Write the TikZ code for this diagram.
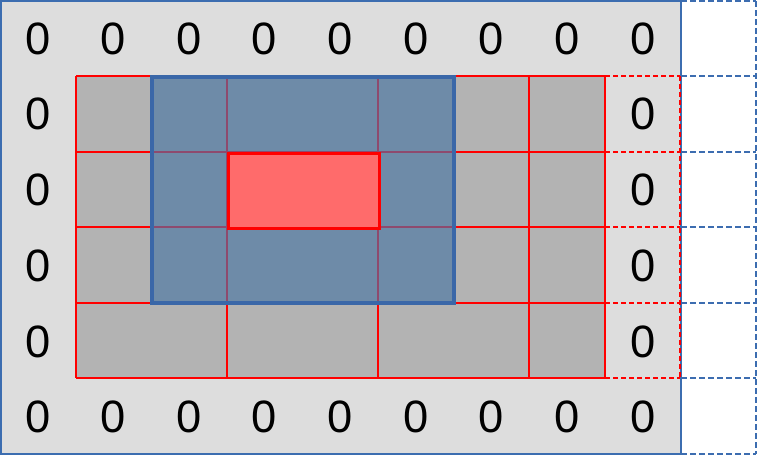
\documentclass[tikz,border=0pt]{standalone}
\usepackage{fontspec}
\setmainfont{Liberation Sans}
\definecolor{outerg}{HTML}{DDDDDD}
\definecolor{innerg}{HTML}{B3B3B3}
\definecolor{bluefill}{HTML}{6E8BA8}
\definecolor{blueedge}{HTML}{3A67A8}
\definecolor{frameblue}{HTML}{3C6DB0}
\definecolor{redfill}{HTML}{FF6B6B}
\definecolor{gridred}{HTML}{FF0000}
\definecolor{inblueline}{HTML}{8E4A6E}
\begin{document}
\begin{tikzpicture}[x=0.75pt,y=-0.75pt,
  zero/.style={font=\fontsize{34}{34}\selectfont, inner sep=0pt},
  redgrid/.style={draw=gridred, line width=1.4pt},
  reddash/.style={draw=gridred, line width=1.4pt, dash pattern=on 3.75pt off 2.25pt},
  bluedash/.style={draw=frameblue, line width=1.4pt, dash pattern=on 4.5pt off 2.25pt},
  inblue/.style={draw=inblueline, line width=1.4pt}]
\useasboundingbox (0,0) rectangle (757,455);
% outer grey frame
\fill[outerg] (0,0) rectangle (681,455);
% blue dashed column
\foreach \r in {1,76,152,227,303,378,454}{
  \draw[bluedash] (681,\r) -- (756,\r);
}
\draw[bluedash] (756,1) -- (756,454);
\draw[frameblue, line width=1.2pt] (0.8,0.8) rectangle (681.2,454.2);
% red grid
\fill[innerg] (76,76) rectangle (605,378);
\foreach \r in {76,152,227,303,378}{
  \draw[redgrid] (76,\r) -- (605,\r);
  \draw[reddash] (605,\r) -- (679.6,\r);
}
\foreach \c in {76,227,378,529,605}{
  \draw[redgrid] (\c,76) -- (\c,378);
}
\draw[reddash] (679.6,76) -- (679.6,378);
% blue block
\coordinate (bnw) at (151.5,76.5);
\coordinate (bse) at (453.5,302.5);
\fill[bluefill] (bnw) rectangle (bse);
\foreach \c in {227,378}{ \draw[inblue] (\c,76.5) -- (\c,302.5); }
\foreach \r in {152,227}{ \draw[inblue] (151.5,\r) -- (453.5,\r); }
% red cell
\node[draw=gridred, fill=redfill, line width=2.6pt, minimum width=151*0.75pt, minimum height=75*0.75pt, inner sep=0pt, anchor=north west] (cell) at (227,152) {};
\draw[blueedge, line width=3pt] (bnw) rectangle (bse);
% zeros
\foreach \i in {0,...,8}{
  \node[zero] (t\i) at ({37.8+75.6*\i},38.4) {0};
  \node[zero] (b\i) at ({37.8+75.6*\i},417) {0};
}
\foreach \j in {1,...,4}{
  \node[zero] (l\j) at (37.8,{38.4+75.8*\j}) {0};
  \node[zero] (r\j) at (642.6,{38.4+75.8*\j}) {0};
}
\end{tikzpicture}
\end{document}
